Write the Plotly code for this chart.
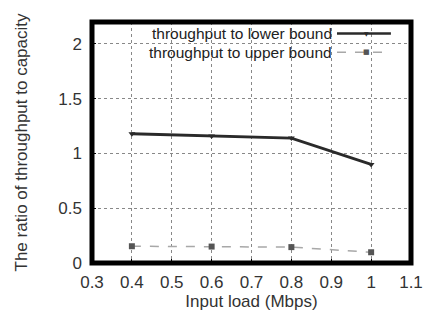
import plotly.graph_objects as go

x_load = [0.4, 0.6, 0.8, 1.0]
lower_bound = [1.18, 1.16, 1.14, 0.90]
upper_bound = [0.153, 0.150, 0.145, 0.098]
x_ticks = [0.3, 0.4, 0.5, 0.6, 0.7, 0.8, 0.9, 1.0, 1.1]
x_tick_labels = ["0.3", "0.4", "0.5", "0.6", "0.7", "0.8", "0.9", "1", "1.1"]
y_ticks = [0, 0.5, 1, 1.5, 2]
y_tick_labels = ["0", "0.5", "1", "1.5", "2"]
series_names = ["throughput to lower bound", "throughput to upper bound"]

FONT = "Liberation Sans, Arial, sans-serif"

fig = go.Figure()
fig.add_trace(go.Scatter(
    x=x_load, y=upper_bound, mode="lines+markers", name=series_names[1],
    line=dict(color="#a8a8a8", width=1.5, dash="dash"),
    marker=dict(symbol="square", size=6, color="#555555"),
    showlegend=False))
fig.add_trace(go.Scatter(
    x=x_load, y=lower_bound, mode="lines+markers", name=series_names[0],
    line=dict(color="#2a2a2a", width=2.8),
    marker=dict(symbol="triangle-down", size=6, color="#2a2a2a"),
    showlegend=False))

ROW1, ROW2 = 0.952, 0.875

shapes = [
    dict(type="rect", xref="paper", yref="paper", x0=0, y0=0, x1=1, y1=1,
         line=dict(color="black", width=5), layer="above"),
    # legend samples
    dict(type="line", xref="paper", yref="paper", x0=0.768, x1=0.937, y0=ROW1, y1=ROW1,
         line=dict(color="#2a2a2a", width=2.5)),
    dict(type="line", xref="paper", yref="paper", x0=0.768, x1=0.937, y0=ROW2, y1=ROW2,
         line=dict(color="#a8a8a8", width=1.5, dash="dash")),
]

annotations = [
    dict(text=series_names[0], xref="paper", yref="paper", x=0.76, y=ROW1,
         xanchor="right", yanchor="middle", showarrow=False,
         font=dict(family=FONT, size=15.5, color="#222")),
    dict(text=series_names[1], xref="paper", yref="paper", x=0.76, y=ROW2,
         xanchor="right", yanchor="middle", showarrow=False,
         font=dict(family=FONT, size=15.5, color="#222")),
    dict(text="\u25BC", xref="paper", yref="paper", x=0.861, y=ROW1,
         xanchor="center", yanchor="middle", showarrow=False,
         font=dict(family="DejaVu Sans", size=6, color="#2a2a2a")),
    dict(text="\u25A0", xref="paper", yref="paper", x=0.861, y=ROW2,
         xanchor="center", yanchor="middle", showarrow=False,
         font=dict(family="DejaVu Sans", size=7, color="#555555")),
]

fig.update_layout(
    width=435, height=320,
    margin=dict(l=92, r=12, t=22, b=57),
    paper_bgcolor="white", plot_bgcolor="white",
    font=dict(family=FONT, size=17, color="#333"),
    shapes=shapes, annotations=annotations,
    xaxis=dict(range=[0.3, 1.1], tickvals=x_ticks, ticktext=x_tick_labels,
               showgrid=True, gridcolor="#888888", griddash="dot", gridwidth=1,
               zeroline=False, showline=False, ticks="inside", ticklen=4,
               tickcolor="black", ticklabelstandoff=7,
               title=dict(text="Input load (Mbps)", font=dict(size=17), standoff=4),
               tickfont=dict(size=17)),
    yaxis=dict(range=[0, 2.2], tickvals=y_ticks, ticktext=y_tick_labels,
               showgrid=True, gridcolor="#888888", griddash="dot", gridwidth=1,
               zeroline=False, showline=False, ticks="inside", ticklen=4,
               tickcolor="black", ticklabelstandoff=9,
               title=dict(text="The ratio of throughput to capacity", font=dict(size=17), standoff=26),
               tickfont=dict(size=17)),
)

fig.write_html("out.html")
